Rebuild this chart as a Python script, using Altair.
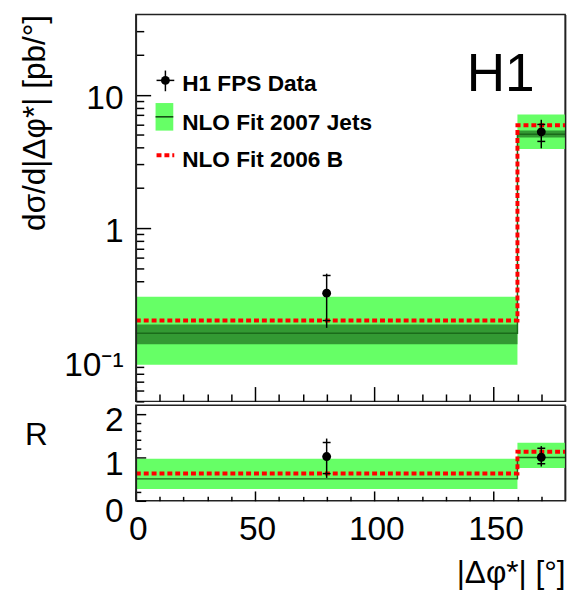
import altair as alt
import pandas as pd

FONT = "Liberation Sans"

# ---- binning in |Δφ*| (degrees)
bin_lo = [0, 160]
bin_hi = [160, 180]
bin_center = [80, 170]
edges = [0, 160, 180]

# ---- upper panel: dσ/d|Δφ*| [pb/°]
nlo07_outer_lo = [0.094, 3.91]
nlo07_outer_hi = [0.305, 7.09]
nlo07_inner_lo = [0.134, 4.78]
nlo07_inner_hi = [0.189, 5.38]
nlo07_central = [0.162, 5.05]
nlo06b = [0.202, 5.89]
h1_val = [0.324, 5.26]
h1_stat_lo = [0.202, 4.46]
h1_stat_hi = [0.44, 5.98]
h1_tot_lo = [0.178, 3.96]
h1_tot_hi = [0.454, 6.48]

# ---- lower panel: ratio R
r_outer_lo = [0.272, 0.754]
r_outer_hi = [0.967, 1.336]
r_central = [0.505, 0.997]
r_nlo06b = [0.627, 1.13]
r_val = [1.02, 1.003]
r_stat_lo = [0.627, 0.854]
r_stat_hi = [1.343, 1.21]
r_tot_lo = [0.528, 0.79]
r_tot_hi = [1.434, 1.26]

# ---- tick values and texts
x_major = [0, 50, 100, 150]
x_minor = [10, 20, 30, 40, 60, 70, 80, 90, 110, 120, 130, 140, 160, 170]
top_y_major = [0.1, 1, 10]
top_y_minor = [0.05, 0.06, 0.07, 0.08, 0.09, 0.2, 0.3, 0.4, 0.5, 0.6, 0.7, 0.8, 0.9,
               2, 3, 4, 5, 6, 7, 8, 9, 20, 30]
bot_y_major = [0, 1, 2]
bot_y_minor = [0.2, 0.4, 0.6, 0.8, 1.2, 1.4, 1.6, 1.8]
legend_labels = ["H1 FPS Data", "NLO Fit 2007 Jets", "NLO Fit 2006 B"]
top_y_title = "dσ/d|Δφ*| [pb/°]"
bot_y_title = "R"
x_title = "|Δφ*| [°]"
experiment = "H1"

LIGHT = "#66ff66"
DARK = "#339933"
CENTRAL = "#1a6b1a"
RED = "#ff0000"
W = 436

xscale = alt.Scale(domain=[0, 180], nice=False, zero=False)
top_scale = alt.Scale(type="log", domain=[0.05, 40], nice=False)
bot_scale = alt.Scale(domain=[0, 2.2], nice=False, zero=False)


def X(f, axis=None):
    return alt.X(f, type="quantitative", scale=xscale, axis=axis)


def tick_axis(orient, values, size):
    return alt.Axis(orient=orient, values=values, labels=False, domain=False, grid=False,
                    ticks=True, tickSize=size, tickWidth=1.5, tickColor="black",
                    offset=-size, title=None)


def frame_axis(orient):
    return alt.Axis(orient=orient, labels=False, ticks=False, grid=False, domain=True,
                    domainColor="#222222", domainWidth=1.5, title=None, zindex=1)


def step(vals):
    return pd.DataFrame({"x": edges, "y": [vals[0], vals[1], vals[1]]})


def make_panel(df, ys, height, inner, central, red, ymaj, ymin, ylen, xlen,
               ylabel_axis, xlabel_axis, extras):
    def Y(f, axis=None):
        return alt.Y(f, type="quantitative", scale=ys, axis=axis)

    layers = [alt.Chart(df).mark_rect(color=LIGHT).encode(
        x=X("lo"), x2="hi", y=Y("olo"), y2="ohi")]
    if inner:
        layers.append(alt.Chart(df).mark_rect(color=DARK).encode(
            x=X("lo"), x2="hi", y=Y("ilo"), y2="ihi"))
    layers.append(alt.Chart(step(central)).mark_line(
        interpolate="step-after", color=CENTRAL, strokeWidth=1.5).encode(x=X("x"), y=Y("y")))
    layers.append(alt.Chart(step(red)).mark_line(
        interpolate="step-after", color=RED, strokeWidth=4, strokeDash=[5, 3]).encode(
        x=X("x"), y=Y("y")))
    layers.append(alt.Chart(df).mark_rule(color="black", strokeWidth=1.5).encode(
        x=X("xc"), y=Y("tlo"), y2="thi"))
    for f in ["slo", "shi"]:
        layers.append(alt.Chart(df).mark_tick(
            orient="horizontal", color="black", size=8, thickness=1.5, opacity=1).encode(
            x=X("xc"), y=Y(f)))
    layers.append(alt.Chart(df).mark_point(
        filled=True, shape="circle", color="black", size=81, opacity=1).encode(
        x=X("xc"), y=Y("v")))
    layers += extras

    def ax(xaxis=None, yaxis=None):
        return alt.Chart(df).mark_point(opacity=0).encode(x=X("xc", xaxis), y=Y("v", yaxis))

    layers.append(ax(yaxis=tick_axis("left", ymaj, ylen[0])))
    layers.append(ax(yaxis=tick_axis("left", ymin, ylen[1])))
    layers.append(ax(xaxis=tick_axis("bottom", x_major, xlen[0])))
    layers.append(ax(xaxis=tick_axis("bottom", x_minor, xlen[1])))
    layers.append(ax(yaxis=ylabel_axis))
    layers.append(ax(yaxis=frame_axis("right")))
    if xlabel_axis is not None:
        layers.append(ax(xaxis=xlabel_axis))
    return alt.layer(*layers).resolve_axis(x="independent", y="independent").properties(
        width=W, height=height)


top_df = pd.DataFrame(dict(lo=bin_lo, hi=bin_hi, xc=bin_center,
                           olo=nlo07_outer_lo, ohi=nlo07_outer_hi,
                           ilo=nlo07_inner_lo, ihi=nlo07_inner_hi,
                           v=h1_val, slo=h1_stat_lo, shi=h1_stat_hi,
                           tlo=h1_tot_lo, thi=h1_tot_hi))
bot_df = pd.DataFrame(dict(lo=bin_lo, hi=bin_hi, xc=bin_center,
                           olo=r_outer_lo, ohi=r_outer_hi,
                           v=r_val, slo=r_stat_lo, shi=r_stat_hi,
                           tlo=r_tot_lo, thi=r_tot_hi))

one = pd.DataFrame({"k": [0]})
leg = [
    # data symbol
    alt.Chart(one).mark_rule(color="black", strokeWidth=1.5).encode(
        x=alt.value(30), y=alt.value(57), y2=alt.value(78)),
    alt.Chart(one).mark_rule(color="black", strokeWidth=1.5).encode(
        x=alt.value(21), x2=alt.value(39), y=alt.value(67)),
    alt.Chart(one).mark_point(filled=True, shape="circle", color="black", size=81,
                              opacity=1).encode(x=alt.value(30), y=alt.value(67)),
    # NLO 2007 symbol
    alt.Chart(one).mark_rect(color=LIGHT).encode(
        x=alt.value(20), x2=alt.value(38), y=alt.value(90), y2=alt.value(118)),
    alt.Chart(one).mark_rule(color="#103f10", strokeWidth=1.5).encode(
        x=alt.value(20), x2=alt.value(38), y=alt.value(104)),
    # NLO 2006 B symbol
    alt.Chart(one).mark_rule(color=RED, strokeWidth=4, strokeDash=[5, 3]).encode(
        x=alt.value(21), x2=alt.value(39), y=alt.value(143)),
]
for lab, yb in zip(legend_labels, [78, 117, 155]):
    leg.append(alt.Chart(one).mark_text(
        text=lab, font=FONT, fontSize=23, fontWeight="bold", color="black",
        align="left", baseline="alphabetic").encode(x=alt.value(47), y=alt.value(yb)))
leg.append(alt.Chart(one).mark_text(
    text=experiment, font=FONT, fontSize=54, color="black",
    align="left", baseline="alphabetic").encode(x=alt.value(336), y=alt.value(78)))

top_label_axis = alt.Axis(
    orient="left", values=top_y_major, ticks=False, tickSize=0, domain=True,
    domainColor="#222222", domainWidth=1.5, zindex=1, grid=False,
    labelExpr="datum.value < 0.5 ? '10⁻¹' : (datum.value < 5 ? '1' : '10')",
    labelFont=FONT, labelFontSize=34, labelColor="black", labelPadding=13,
    labelOffset=4, labelOverlap=False, labelBaseline="middle",
    title=top_y_title, titleFont=FONT, titleFontSize=32, titleFontWeight="normal",
    titleColor="black", titleAnchor="end", titlePadding=13)

bot_label_axis = alt.Axis(
    orient="left", values=bot_y_major, format="d", ticks=False, tickSize=0, domain=True,
    domainColor="#222222", domainWidth=1.5, zindex=1, grid=False,
    labelFont=FONT, labelFontSize=34, labelColor="black", labelPadding=13,
    labelOffset={"condition": {"test": "datum.value === 0", "value": 11}, "value": 7},
    labelOverlap=False, labelBaseline="middle",
    title=bot_y_title, titleFont=FONT, titleFontSize=32, titleFontWeight="normal",
    titleColor="black", titleAngle=0, titleAlign="left", titleBaseline="alphabetic",
    titleX=-113, titleY=40)

x_label_axis = alt.Axis(
    orient="bottom", values=x_major, format="d", ticks=False, tickSize=0, domain=False,
    grid=False, labelFont=FONT, labelFontSize=34, labelColor="black", labelPadding=12,
    labelFlush=False, labelOffset=2, labelOverlap=False,
    title=x_title, titleFont=FONT, titleFontSize=32, titleFontWeight="normal",
    titleColor="black", titleAnchor="end", titlePadding=12)

top = make_panel(top_df, top_scale, 393, True, nlo07_central, nlo06b,
                 top_y_major, top_y_minor, (15, 8), (15, 7.5),
                 top_label_axis, None, leg)
bot = make_panel(bot_df, bot_scale, 97, False, r_central, r_nlo06b,
                 bot_y_major, bot_y_minor, (10, 5), (10, 4.5),
                 bot_label_axis, x_label_axis, [])

chart = alt.vconcat(top, bot, spacing=0).properties(
    padding={"left": 18, "top": 9, "right": 0, "bottom": 0},
    background="white",
).configure_view(stroke="#222222", strokeWidth=1.5)

chart.save("out.html", embed_options={"renderer": "svg", "actions": False})
